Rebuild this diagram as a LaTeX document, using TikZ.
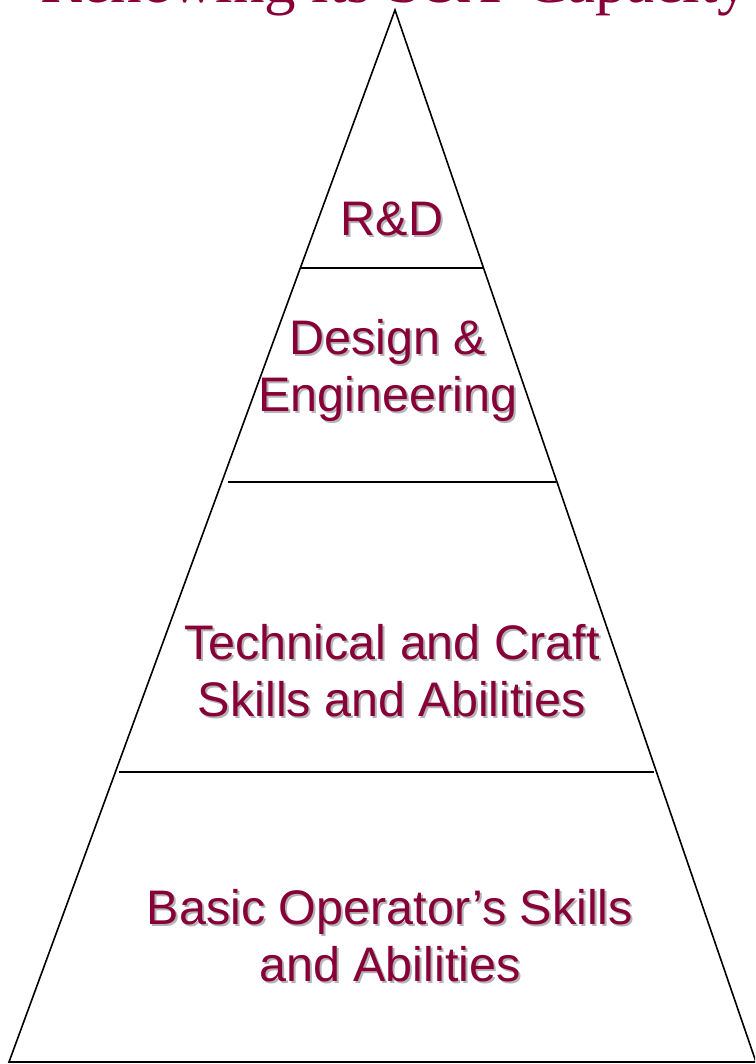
\documentclass[tikz,border=0pt]{standalone}
\usepackage{fontspec}
\setmainfont{Liberation Serif}
\setsansfont{Liberation Sans}
\usepackage{xcolor}
\usetikzlibrary{calc}

\definecolor{claret}{RGB}{135,0,55}
\definecolor{shadowgray}{RGB}{180,180,180}

\begin{document}
\begin{tikzpicture}[x=1pt,y=-1pt,
    tier/.style={text=claret, font=\sffamily\fontsize{48.5}{57}\selectfont, align=center, inner sep=0pt},
    tiershadow/.style={tier, text=shadowgray, xshift=2pt, yshift=-2pt},
    rung/.style={black, line width=1.6pt}]
        \useasboundingbox (0,0) rectangle (755,1064);
        \clip (0,0) rectangle (755,1064);

        % title, cut off by the top edge
        \node[anchor=base, text=claret, font=\fontsize{63}{70}\selectfont, inner sep=0pt] (title) at (395,3) {Renewing its S\&T Capacity};

        % the pyramid
        \coordinate (top) at (395,10);
        \coordinate (L) at (9,1062);
        \coordinate (R) at (756,1062);
        \draw[rung, line join=miter] (L) -- (top) -- (R) -- cycle;

        % rungs between the tiers
        \coordinate (a1) at (301,268);  \coordinate (b1) at (484,268);
        \coordinate (a2) at (228,482);  \coordinate (b2) at (556,482);
        \coordinate (a3) at (119,772);  \coordinate (b3) at (654,772);
        \draw[rung] (a1) -- (b1);
        \draw[rung] (a2) -- (b2);
        \draw[rung] (a3) -- (b3);

        % tier labels (shadow first)
        \node[tiershadow, anchor=base] (RDs) at (392,236) {R\&D};
        \node[tier, anchor=base] (RD) at (392,236) {R\&D};
        \node[tiershadow] (DEs) at (388,370) {Design \&\\Engineering};
        \node[tier] (DE) at (388,370) {Design \&\\Engineering};
        \node[tiershadow] (TCs) at (392,671) {Technical and Craft\\Skills and Abilities};
        \node[tier] (TC) at (392,671) {Technical and Craft\\Skills and Abilities};
        \node[tiershadow] (BOs) at (390,936) {Basic Operator’s Skills\\and Abilities};
        \node[tier] (BO) at (390,936) {Basic Operator’s Skills\\and Abilities};

    \end{tikzpicture}
\end{document}
